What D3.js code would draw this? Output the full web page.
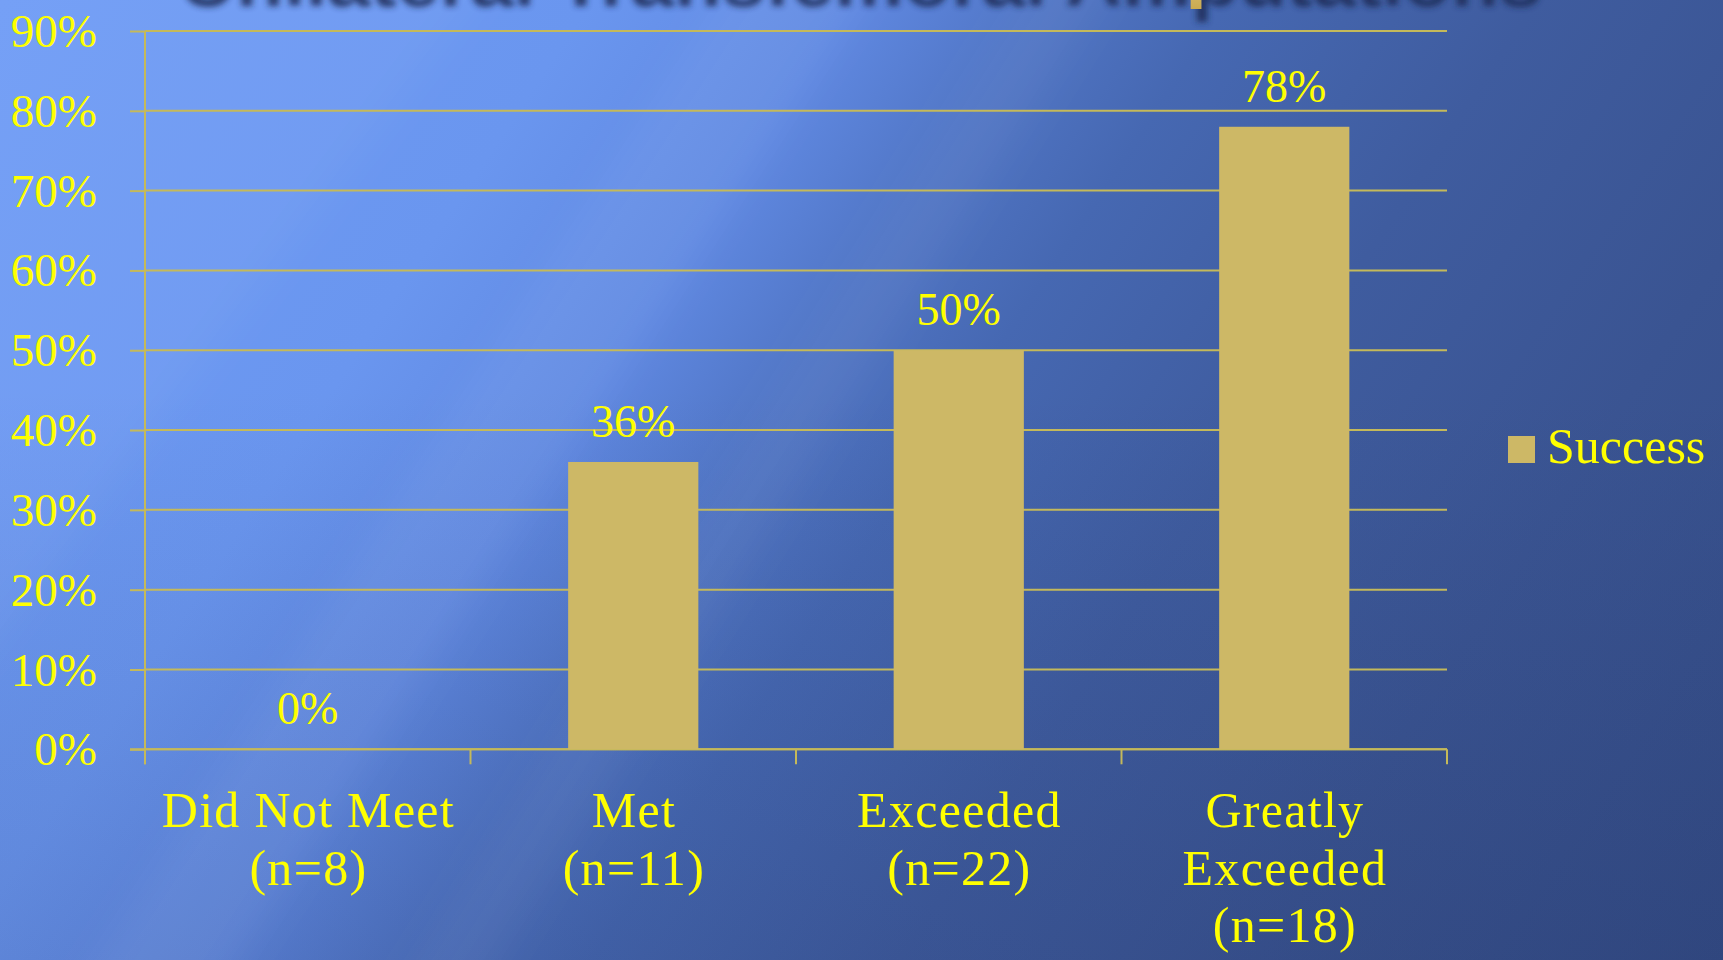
<!DOCTYPE html>
<html>
<head>
<meta charset="utf-8">
<script src="https://cdn.jsdelivr.net/npm/d3@7"></script>
<style>
  html, body { margin: 0; padding: 0; overflow: hidden; background: #3b5796; }
  svg { display: block; }
</style>
</head>
<body>
<svg id="chart" width="1723" height="960"></svg>
<script>
// Success rate by outcome group
const categories = ["Did Not Meet", "Met", "Exceeded", "Greatly Exceeded"];
const categoryLines = [["Did Not Meet", "(n=8)"], ["Met", "(n=11)"], ["Exceeded", "(n=22)"], ["Greatly", "Exceeded", "(n=18)"]];
const successValues = [0.00, 0.36, 0.50, 0.78];
const yTicks = [0, 0.1, 0.2, 0.3, 0.4, 0.5, 0.6, 0.7, 0.8, 0.9];
const seriesName = "Success";
const titleText = "Unilateral Transfemoral Amputations";

const W = 1723, H = 960;
const plot = { left: 145, right: 1447, top: 31, bottom: 749.3 };
const barColor = "#cdb866";
const lineColor = "#c4b95a";
const textColor = "#ffff00";
const serif = "'Liberation Serif', 'Times New Roman', serif";

const svg = d3.select("#chart");
const defs = svg.append("defs");

// Slide background: diagonal blue gradient, light at the top-left
const bg = defs.append("linearGradient").attr("id", "bg")
  .attr("gradientUnits", "userSpaceOnUse")
  .attr("x1", 0).attr("y1", 0).attr("x2", 1640).attr("y2", 1090);
[[0, "#6f9cf6"], [0.25, "#6a96ef"], [0.36, "#6089e2"], [0.44, "#5176c6"],
 [0.52, "#4668b2"], [0.65, "#3f5c9f"], [0.8, "#3a5492"], [1, "#344c86"]]
  .forEach(([o, c]) => bg.append("stop").attr("offset", o).attr("stop-color", c));

// Gentle darkening toward the bottom edge
const shade = defs.append("linearGradient").attr("id", "shade")
  .attr("x1", 0).attr("y1", 0).attr("x2", 0).attr("y2", 1);
shade.append("stop").attr("offset", 0.4).attr("stop-color", "#14204a").attr("stop-opacity", 0);
shade.append("stop").attr("offset", 1).attr("stop-color", "#14204a").attr("stop-opacity", 0.13);

defs.append("filter").attr("id", "soft").attr("x", "-20%").attr("y", "-20%")
  .attr("width", "140%").attr("height", "140%")
  .append("feGaussianBlur").attr("stdDeviation", 18);

defs.append("filter").attr("id", "shadowBlur").attr("x", "-5%").attr("y", "-50%")
  .attr("width", "110%").attr("height", "200%")
  .append("feGaussianBlur").attr("stdDeviation", 3);

const tg = defs.append("linearGradient").attr("id", "titleFill")
  .attr("x1", 0).attr("y1", 0).attr("x2", 0).attr("y2", 1);
tg.append("stop").attr("offset", 0).attr("stop-color", "#fff3c4");
tg.append("stop").attr("offset", 1).attr("stop-color", "#c9a94e");

svg.append("rect").attr("width", W).attr("height", H).attr("fill", "url(#bg)");
svg.append("rect").attr("width", W).attr("height", H).attr("fill", "url(#shade)");

// Soft diagonal light streaks
const streaks = svg.append("g").attr("filter", "url(#soft)");
const streakShapes = [
  { pts: [[760, -60], [900, -60], [200, 1020], [60, 1020]], op: 0.05 },
  { pts: [[1060, -60], [1140, -60], [460, 1020], [380, 1020]], op: 0.04 },
  { pts: [[-200, -60], [520, -60], [-200, 900]], op: 0.04 }
];
streakShapes.forEach(s => streaks.append("polygon")
  .attr("points", s.pts.map(p => p.join(",")).join(" "))
  .attr("fill", "#ffffff").attr("opacity", s.op));

// Title, mostly above the visible area: dark shadow plus gold text
svg.append("text").attr("x", 861).attr("y", 6)
  .attr("text-anchor", "middle").attr("font-family", "'Liberation Sans', Arial, sans-serif")
  .attr("font-weight", "bold").attr("font-size", 78).attr("fill", "#1c2a55")
  .attr("opacity", 0.85).attr("filter", "url(#shadowBlur)").text(titleText);
svg.append("text").attr("x", 855).attr("y", -7)
  .attr("text-anchor", "middle").attr("font-family", "'Liberation Sans', Arial, sans-serif")
  .attr("font-weight", "bold").attr("font-size", 78).attr("fill", "url(#titleFill)")
  .text(titleText);

// Scales
const x = d3.scaleBand().domain(categories)
  .range([plot.left, plot.right]).paddingInner(0.6).paddingOuter(0.3);
const y = d3.scaleLinear().domain([0, 0.9]).range([plot.bottom, plot.top]);

// Horizontal gridlines
svg.append("g").selectAll("line").data(yTicks).join("line")
  .attr("x1", plot.left).attr("x2", plot.right)
  .attr("y1", d => y(d)).attr("y2", d => y(d))
  .attr("stroke", lineColor).attr("stroke-width", 2);

// Y axis: short ticks and percentage labels
const yAxis = svg.append("g").attr("transform", `translate(${plot.left},0)`)
  .call(d3.axisLeft(y).tickValues(yTicks).tickFormat(d3.format(".0%"))
    .tickSize(15).tickPadding(33));
yAxis.select(".domain").remove();
yAxis.selectAll(".tick line").attr("stroke", lineColor).attr("stroke-width", 2);
yAxis.selectAll(".tick text").attr("fill", textColor)
  .attr("font-family", serif).attr("font-size", 47).attr("dy", "0.33em");

// Axis lines
svg.append("line").attr("x1", plot.left).attr("x2", plot.left)
  .attr("y1", plot.top).attr("y2", plot.bottom + 15)
  .attr("stroke", lineColor).attr("stroke-width", 2);
svg.append("line").attr("x1", plot.left - 15).attr("x2", plot.right)
  .attr("y1", plot.bottom).attr("y2", plot.bottom)
  .attr("stroke", lineColor).attr("stroke-width", 2);

// Category boundary ticks on the x axis
const step = x.step();
const boundaries = d3.range(categories.length + 1).map(i => plot.left + i * step);
svg.append("g").selectAll("line").data(boundaries).join("line")
  .attr("x1", d => d).attr("x2", d => d)
  .attr("y1", plot.bottom).attr("y2", plot.bottom + 15)
  .attr("stroke", lineColor).attr("stroke-width", 2);

// Bars
const data = categories.map((c, i) => ({ cat: c, value: successValues[i], lines: categoryLines[i] }));
svg.append("g").selectAll("rect").data(data).join("rect")
  .attr("x", d => x(d.cat)).attr("width", x.bandwidth())
  .attr("y", d => y(d.value)).attr("height", d => y(0) - y(d.value))
  .attr("fill", barColor);

// Value labels
svg.append("g").selectAll("text").data(data).join("text")
  .attr("x", d => x(d.cat) + x.bandwidth() / 2)
  .attr("y", d => y(d.value) - 25)
  .attr("text-anchor", "middle").attr("fill", textColor)
  .attr("font-family", serif).attr("font-size", 46)
  .text(d => d3.format(".0%")(d.value));

// Category labels (multi-line)
const catLabels = svg.append("g").selectAll("text").data(data).join("text")
  .attr("text-anchor", "middle").attr("fill", textColor)
  .attr("font-family", serif).attr("font-size", 50)
  .attr("letter-spacing", 1.3);
catLabels.selectAll("tspan").data(d => d.lines.map(l => ({ l, cx: x(d.cat) + x.bandwidth() / 2 + 0.65 })))
  .join("tspan")
  .attr("x", d => d.cx)
  .attr("y", (d, i) => 827 + i * 57.5)
  .text(d => d.l);

// Legend
const legend = svg.append("g").attr("transform", "translate(1508,436)");
legend.append("rect").attr("width", 27).attr("height", 27).attr("fill", barColor);
legend.append("text").attr("x", 39).attr("y", 27)
  .attr("fill", textColor).attr("font-family", serif).attr("font-size", 50)
  .text(seriesName);
</script>
</body>
</html>
